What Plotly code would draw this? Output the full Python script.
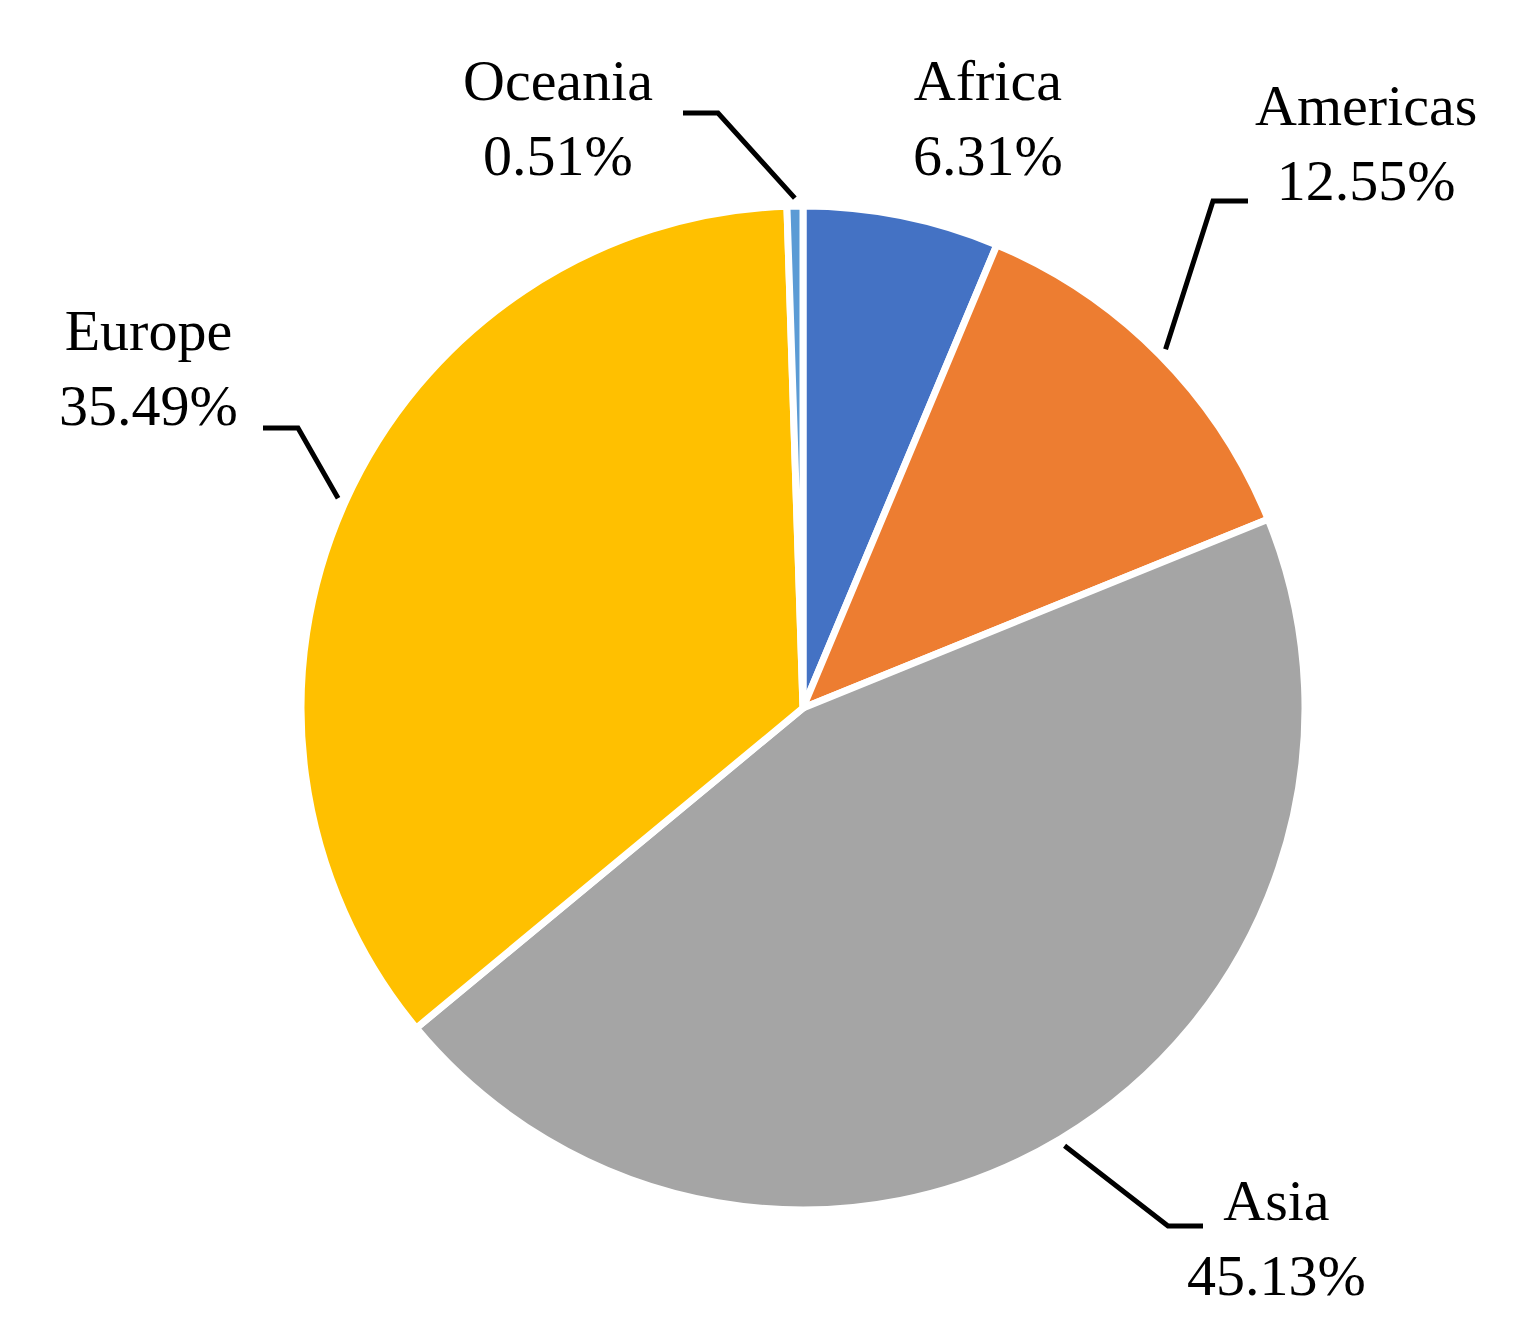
import math
import plotly.graph_objects as go

regions = ["Africa", "Americas", "Asia", "Europe", "Oceania"]
shares = [6.31, 12.55, 45.13, 35.49, 0.51]
colors = ["#4472C4", "#ED7D31", "#A5A5A5", "#FFC000", "#5B9BD5"]

W, H = 1522, 1335
cx, cy, R = 795, 700, 502

def px(x, y):
    return x / W, 1 - y / H

fig = go.Figure(go.Pie(
    labels=regions, values=shares, sort=False, direction="clockwise", rotation=0,
    marker=dict(colors=colors, line=dict(color="white", width=7)),
    textinfo="none", hoverinfo="label+percent", showlegend=False,
    domain=dict(x=[(cx - R) / W, (cx + R) / W], y=[1 - (cy + R) / H, 1 - (cy - R) / H]),
))

# label positions (pixels) and leader line elbows (None = no leader)
label_pos = {"Africa": (980, 110), "Americas": (1358, 135), "Asia": (1268, 1230),
             "Europe": (140, 360), "Oceania": (550, 110)}
elbows = {"Americas": [(1205, 193), (1240, 193)], "Asia": [(1160, 1218), (1195, 1218)],
          "Europe": [(290, 420), (255, 420)], "Oceania": [(710, 105), (675, 105)]}

total = sum(shares)
cum = 0
for name, v in zip(regions, shares):
    mid = (cum + v / 2) / total * 2 * math.pi
    cum += v
    lx, ly = label_pos[name]
    ax, ay = px(lx, ly)
    fig.add_annotation(x=ax, y=ay, xref="paper", yref="paper", showarrow=False,
                       text=f"{name}<br>{v:.2f}%", xanchor="center", yanchor="middle",
                       font=dict(family="Liberation Serif", size=58, color="black"))
    if name in elbows:
        sx = cx + (R + 8) * math.sin(mid)
        sy = cy - (R + 8) * math.cos(mid)
        pts = [(sx, sy)] + elbows[name]
        path = "M " + " L ".join(f"{px(x, y)[0]},{px(x, y)[1]}" for x, y in pts)
        fig.add_shape(type="path", path=path, xref="paper", yref="paper",
                      line=dict(color="black", width=5))

fig.update_layout(width=W, height=H, margin=dict(l=0, r=0, t=0, b=0),
                  paper_bgcolor="white", plot_bgcolor="white")
fig.write_html("out.html")
